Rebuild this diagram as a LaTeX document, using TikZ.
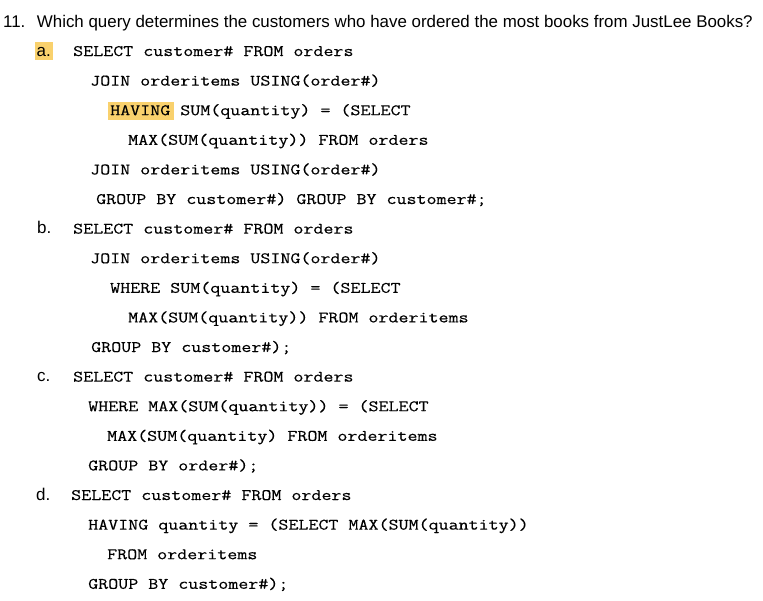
\documentclass[tikz,border=0pt]{standalone}
\usepackage{fontspec}
\setmainfont{Liberation Sans}
\newfontfamily\codefont[FakeStretch=1.215,FakeBold=0.4]{Latin Modern Mono}
\definecolor{hl}{HTML}{F9D16D}
\begin{document}
\begin{tikzpicture}[x=1pt,y=-1pt,
  question/.style={anchor=base west,inner sep=0pt,font=\fontsize{16.9}{18}\selectfont},
  label/.style={anchor=base west,inner sep=0pt,font=\fontsize{17}{18}\selectfont},
  code/.style={anchor=base west,inner sep=0pt,font=\codefont\fontsize{16}{18}\selectfont}]
\useasboundingbox (0,0) rectangle (763,600);
\fill[white] (0,0) rectangle (763,600);
% highlights
\fill[hl] (35,42) rectangle (52.5,60);
\fill[hl] (108,102) rectangle (174,119.5);
\node[question] (q) at (3,27) {11.\hspace{0.68em}Which query determines the customers who have ordered the most books from JustLee Books?};
% a
\node[label] (la) at (36.5,56) {a.};
\node[code] (a0) at (73,56) {SELECT customer\# FROM orders};
\node[code] (a1) at (90,85.6) {JOIN orderitems USING(order\#)};
\node[code] (a2) at (110,115.2) {HAVING SUM(quantity) = (SELECT};
\node[code] (a3) at (128,144.8) {MAX(SUM(quantity)) FROM orders};
\node[code] (a4) at (90,174.4) {JOIN orderitems USING(order\#)};
\node[code] (a5) at (96,204) {GROUP BY customer\#) GROUP BY customer\#;};
% b
\node[label] (lb) at (37,233.6) {b.};
\node[code] (b0) at (73,233.6) {SELECT customer\# FROM orders};
\node[code] (b1) at (90,263.2) {JOIN orderitems USING(order\#)};
\node[code] (b2) at (110,292.8) {WHERE SUM(quantity) = (SELECT};
\node[code] (b3) at (128,322.4) {MAX(SUM(quantity)) FROM orderitems};
\node[code] (b4) at (91,352) {GROUP BY customer\#);};
% c
\node[label] (lc) at (37,381.6) {c.};
\node[code] (c0) at (73,381.6) {SELECT customer\# FROM orders};
\node[code] (c1) at (88,411.2) {WHERE MAX(SUM(quantity)) = (SELECT};
\node[code] (c2) at (107,440.8) {MAX(SUM(quantity) FROM orderitems};
\node[code] (c3) at (88,470.4) {GROUP BY order\#);};
% d
\node[label] (ld) at (36,500) {d.};
\node[code] (d0) at (71,500) {SELECT customer\# FROM orders};
\node[code] (d1) at (88,529.6) {HAVING quantity = (SELECT MAX(SUM(quantity))};
\node[code] (d2) at (107,559.2) {FROM orderitems};
\node[code] (d3) at (88,588.8) {GROUP BY customer\#);};
\end{tikzpicture}
\end{document}
